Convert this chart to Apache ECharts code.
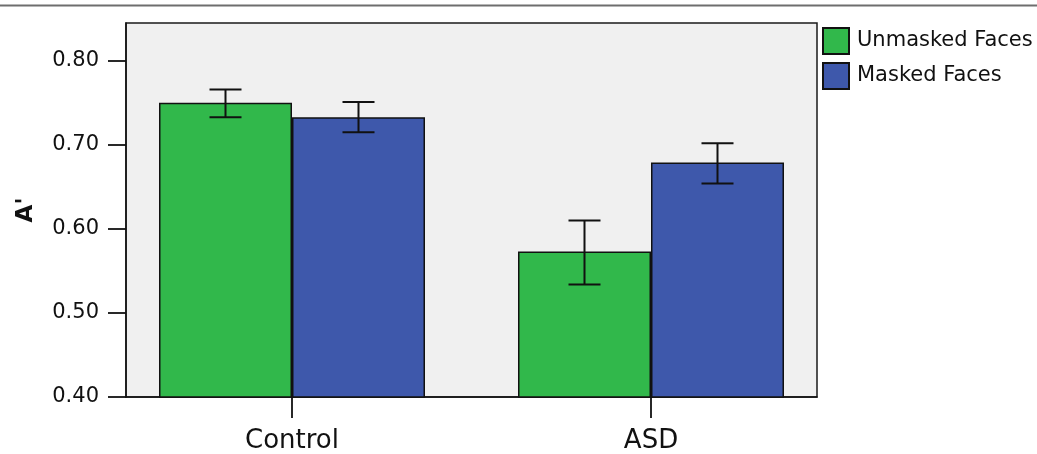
<!DOCTYPE html>
<html>
<head>
<meta charset="utf-8">
<script src="https://cdn.jsdelivr.net/npm/echarts@6/dist/echarts.min.js"></script>
<style>
html,body{margin:0;padding:0;background:#fff;}
#chart{width:1037px;height:454px;}
</style>
</head>
<body>
<div id="chart"></div>
<script>
var categories = ['Control', 'ASD'];
var seriesNames = ['Unmasked Faces', 'Masked Faces'];
var unmasked = [0.750, 0.573];
var unmaskedLow = [0.733, 0.534];
var unmaskedHigh = [0.766, 0.610];
var masked = [0.733, 0.679];
var maskedLow = [0.715, 0.654];
var maskedHigh = [0.751, 0.702];
var yTicks = [0.40, 0.50, 0.60, 0.70, 0.80];

var FONT = 'DejaVu Sans';
var BAR_W = 133;

function errSeries(low, high, side) {
  var data = categories.map(function (c, i) { return [i, low[i], high[i]]; });
  return {
    type: 'custom',
    z: 10,
    silent: true,
    data: data,
    encode: { x: 0, y: [1, 2] },
    renderItem: function (params, api) {
      var x = api.value(0);
      var lo = api.coord([x, api.value(1)]);
      var hi = api.coord([x, api.value(2)]);
      var cx = lo[0] + side * BAR_W / 2;
      var cap = 16;
      var st = { stroke: '#111', lineWidth: 2 };
      return {
        type: 'group',
        children: [
          { type: 'line', shape: { x1: cx, y1: hi[1], x2: cx, y2: lo[1] }, style: st },
          { type: 'line', shape: { x1: cx - cap, y1: hi[1], x2: cx + cap, y2: hi[1] }, style: st },
          { type: 'line', shape: { x1: cx - cap, y1: lo[1], x2: cx + cap, y2: lo[1] }, style: st }
        ]
      };
    }
  };
}

var chart = echarts.init(document.getElementById('chart'), null, { renderer: 'canvas' });
chart.setOption({
  animation: false,
  backgroundColor: '#ffffff',
  graphic: [{
    type: 'line',
    shape: { x1: 0, y1: 5.5, x2: 1037, y2: 5.5 },
    style: { stroke: '#6e6e6e', lineWidth: 2 }
  }],
  grid: {
    left: 126, top: 23, right: 220, bottom: 57,
    show: true, backgroundColor: '#f0f0f0', borderColor: '#1a1a1a', borderWidth: 1.5
  },
  legend: {
    data: seriesNames,
    orient: 'vertical',
    left: 822, top: 27,
    padding: 0,
    itemWidth: 26, itemHeight: 26, itemGap: 7,
    icon: 'rect',
    textStyle: { fontFamily: FONT, fontSize: 21, color: '#111', padding: [2, 0, 0, 3] }
  },
  xAxis: {
    type: 'value',
    min: -0.4624, max: 1.4624,
    splitLine: { show: false },
    axisLine: { show: true, onZero: false, lineStyle: { color: '#111', width: 1.5 } },
    axisTick: { show: true, length: 21, customValues: [0, 1], lineStyle: { color: '#111', width: 1.8 } },
    axisLabel: {
      customValues: [0, 1],
      formatter: function (v) { return categories[Math.round(v)] || ''; },
      fontFamily: FONT, fontSize: 26, color: '#111', margin: 31
    }
  },
  yAxis: {
    type: 'value',
    min: 0.4, max: 0.845,
    name: "A'",
    nameLocation: 'middle',
    nameRotate: 90,
    nameGap: 88,
    nameTextStyle: { fontFamily: FONT, fontSize: 23, fontWeight: 'bold', color: '#111' },
    splitLine: { show: false },
    axisLine: { show: true, onZero: false, lineStyle: { color: '#111', width: 1.5 } },
    axisTick: { show: true, length: 18, customValues: yTicks, lineStyle: { color: '#111', width: 1.8 } },
    axisLabel: {
      customValues: yTicks,
      formatter: function (v) { return v.toFixed(2); },
      fontFamily: FONT, fontSize: 21, color: '#111', margin: 27,
      padding: [10, 0, 0, 0]
    }
  },
  series: [
    {
      name: seriesNames[0], type: 'bar', barWidth: BAR_W, barGap: '0%',
      data: categories.map(function (c, i) { return [i, unmasked[i]]; }),
      itemStyle: { color: '#31b84b', borderColor: '#111', borderWidth: 1.5 }
    },
    {
      name: seriesNames[1], type: 'bar', barWidth: BAR_W, barGap: '0%',
      data: categories.map(function (c, i) { return [i, masked[i]]; }),
      itemStyle: { color: '#3e58ab', borderColor: '#111', borderWidth: 1.5 }
    },
    errSeries(unmaskedLow, unmaskedHigh, -1),
    errSeries(maskedLow, maskedHigh, 1)
  ]
});
</script>
</body>
</html>
